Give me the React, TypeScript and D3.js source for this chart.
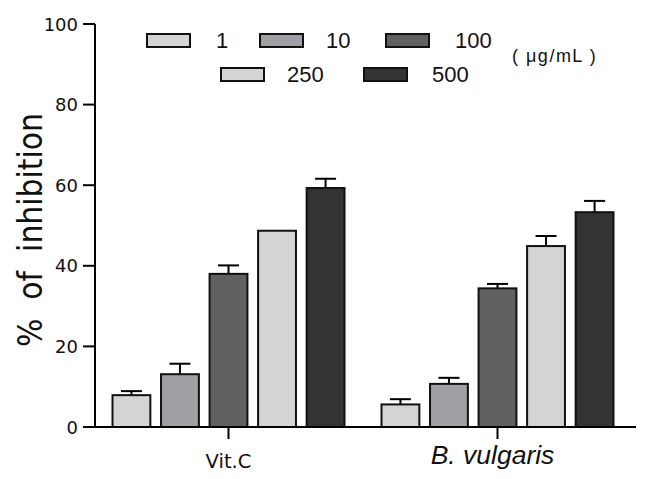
import React from "react";
import * as d3 from "d3";

const categories = ["Vit.C", "B. vulgaris"];
const doses = ["1", "10", "100", "250", "500"];
const vitC = [7.9, 13.1, 38.0, 48.7, 59.3];
const vitCErr = [1.0, 2.6, 2.1, 0, 2.3];
const bVul = [5.6, 10.7, 34.4, 44.9, 53.3];
const bVulErr = [1.3, 1.5, 1.1, 2.5, 2.8];
const yTicks = [0, 20, 40, 60, 80, 100];
const colors = ["#d4d4d4", "#a0a0a4", "#606060", "#d4d4d4", "#333333"];
const unitLabel = "( μg/mL )";

const W = 659;
const H = 479;

export default function App() {
  const y = d3.scaleLinear().domain([0, 100]).range([427, 24]);
  const x0 = d3.scaleBand<string>().domain(categories).range([94, 632]).padding(0);
  const x1 = d3
    .scaleBand<string>()
    .domain(doses)
    .range([-116, 116])
    .paddingInner(0.22)
    .paddingOuter(0);

  const series = [
    { cat: categories[0], vals: vitC, errs: vitCErr },
    { cat: categories[1], vals: bVul, errs: bVulErr },
  ];

  const legendPos = [
    { sx: 147, sy: 34, lx: 216 },
    { sx: 260, sy: 34, lx: 326 },
    { sx: 386, sy: 34, lx: 455 },
    { sx: 221, sy: 68, lx: 287 },
    { sx: 364, sy: 68, lx: 432 },
  ];

  const axisX0 = 95;
  const axisX1 = 636;

  return (
    <svg
      width={W}
      height={H}
      style={{ position: "absolute", left: 0, top: 0, background: "#fff" }}
    >
      {/* bars */}
      {series.map((s) => {
        const cx = (x0(s.cat) as number) + x0.bandwidth() / 2;
        return (
          <g key={s.cat}>
            {s.vals.map((v, i) => {
              const bx = cx + (x1(doses[i]) as number);
              const bw = x1.bandwidth();
              const e = s.errs[i];
              const mid = bx + bw / 2;
              return (
                <g key={i}>
                  {e > 0 && (
                    <g stroke="#000" strokeWidth={2}>
                      <line x1={mid} x2={mid} y1={y(v)} y2={y(v + e)} />
                      <line x1={mid - 10.5} x2={mid + 10.5} y1={y(v + e)} y2={y(v + e)} />
                    </g>
                  )}
                  <rect
                    x={bx}
                    y={y(v)}
                    width={bw}
                    height={y(0) - y(v)}
                    fill={colors[i]}
                    stroke="#111"
                    strokeWidth={2}
                  />
                </g>
              );
            })}
          </g>
        );
      })}

      {/* y axis */}
      <line x1={axisX0} x2={axisX0} y1={y(100)} y2={y(0)} stroke="#000" strokeWidth={2} />
      {yTicks.map((t) => (
        <g key={t}>
          <line x1={83} x2={axisX0} y1={y(t)} y2={y(t)} stroke="#000" strokeWidth={2} />
          <text
            x={78}
            y={y(t)}
            textAnchor="end"
            dominantBaseline="central"
            fontFamily="DejaVu Sans, sans-serif"
            fontSize={18}
            fill="#111"
          >
            {t}
          </text>
        </g>
      ))}

      {/* x axis */}
      <line x1={axisX0} x2={axisX1} y1={y(0)} y2={y(0)} stroke="#000" strokeWidth={2} />
      {categories.map((c) => {
        const cx = (x0(c) as number) + x0.bandwidth() / 2;
        return (
          <line key={c} x1={cx} x2={cx} y1={y(0)} y2={y(0) + 12} stroke="#000" strokeWidth={2} />
        );
      })}
      <text
        x={(x0(categories[0]) as number) + x0.bandwidth() / 2}
        y={468}
        textAnchor="middle"
        fontFamily="DejaVu Sans, sans-serif"
        fontSize={19.5}
        fill="#111"
      >
        {categories[0]}
      </text>
      <text
        x={(x0(categories[1]) as number) + x0.bandwidth() / 2 - 5}
        y={464}
        textAnchor="middle"
        fontFamily="Liberation Sans, Arial, sans-serif"
        fontStyle="italic"
        fontSize={26.5}
        fill="#111"
      >
        {categories[1]}
      </text>

      {/* y title */}
      <text
        transform="translate(42,230) rotate(-90)"
        textAnchor="middle"
        fontFamily="DejaVu Sans, sans-serif"
        fontSize={34}
        textLength={234}
        lengthAdjust="spacingAndGlyphs"
        fill="#111"
        style={{ whiteSpace: "pre" }}
      >
        {"%  of  inhibition"}
      </text>

      {/* legend */}
      {doses.map((d, i) => {
        const p = legendPos[i];
        return (
          <g key={d}>
            <rect
              x={p.sx}
              y={p.sy}
              width={43}
              height={13}
              fill={colors[i]}
              stroke="#111"
              strokeWidth={2}
            />
            <text
              x={p.lx}
              y={p.sy + 6.5}
              dominantBaseline="central"
              fontFamily="Liberation Sans, Arial, sans-serif"
              fontSize={22}
              fill="#111"
            >
              {d}
            </text>
          </g>
        );
      })}
      <text
        x={512}
        y={56}
        dominantBaseline="central"
        fontFamily="Liberation Sans, Arial, sans-serif"
        fontSize={18}
        letterSpacing={1.5}
        fill="#111"
        style={{ whiteSpace: "pre" }}
      >
        {unitLabel}
      </text>
    </svg>
  );
}
